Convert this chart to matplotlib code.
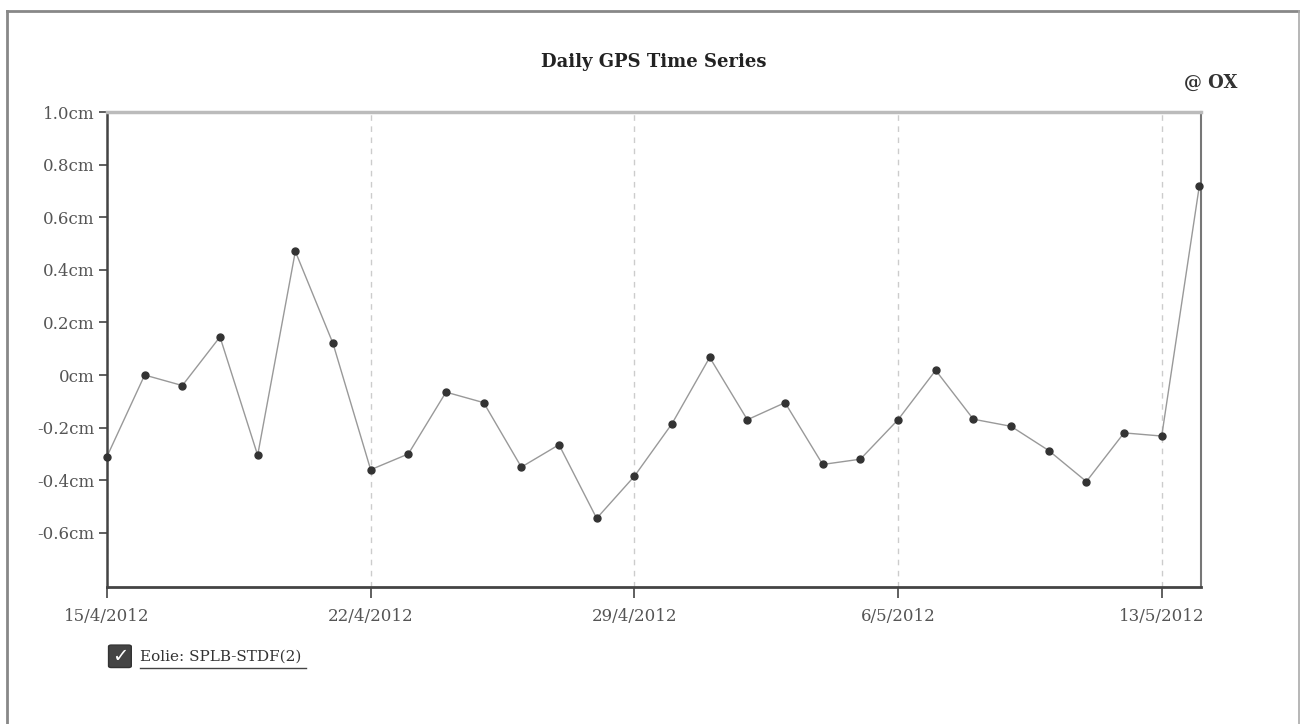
import numpy as np
import matplotlib.pyplot as plt
from matplotlib.patches import FancyBboxPatch
from matplotlib.lines import Line2D

# daily values (cm), 15/4/2012 .. 14/5/2012
start = np.datetime64('2012-04-15')
days = np.arange(30)
dates = start + days
values = [-0.31, 0.00, -0.04, 0.145, -0.305, 0.47, 0.12, -0.36, -0.30, -0.065,
          -0.105, -0.35, -0.265, -0.545, -0.385, -0.185, 0.067, -0.17, -0.105, -0.34,
          -0.32, -0.17, 0.018, -0.168, -0.195, -0.287, -0.405, -0.22, -0.232, 0.72]

week_ticks = start + np.array([0, 7, 14, 21, 28])
week_labels = ['15/4/2012', '22/4/2012', '29/4/2012', '6/5/2012', '13/5/2012']
y_ticks = [-0.6, -0.4, -0.2, 0.0, 0.2, 0.4, 0.6, 0.8, 1.0]
y_labels = ['-0.6cm', '-0.4cm', '-0.2cm', '0cm', '0.2cm', '0.4cm', '0.6cm', '0.8cm', '1.0cm']
series_name = 'Eolie: SPLB-STDF(2)'

plt.rcParams['font.family'] = ['DejaVu Serif']

fig = plt.figure(figsize=(13, 7.24), dpi=100)
ax = fig.add_axes([0.0823, 0.1892, 0.8415, 0.6561])

# weekly dashed guides
for t in week_ticks:
    ax.axvline(t, color='#cccccc', lw=1, ls=(0, (4, 4)), zorder=1)

ax.plot(dates, values, color='#999999', lw=1, zorder=2)
ax.plot(dates, values, 'o', color='#333333', ms=5, zorder=3, clip_on=False)

ax.set_xlim(start, start + np.timedelta64(29, 'D') + np.timedelta64(1, 'h'))
ax.set_ylim(-0.806, 1.0)
ax.set_xticks(week_ticks)
ax.set_xticklabels(week_labels)
ax.set_yticks(y_ticks)
ax.set_yticklabels(y_labels)
ax.tick_params(axis='y', length=6, width=1.2, color='#444444', labelcolor='#555555',
               labelsize=12, pad=3)
ax.tick_params(axis='x', length=8, width=1.2, color='#444444', labelcolor='#555555',
               labelsize=12, pad=7)

ax.spines['left'].set_color('#444444')
ax.spines['left'].set_linewidth(1.8)
ax.spines['bottom'].set_color('#444444')
ax.spines['bottom'].set_linewidth(2)
ax.spines['top'].set_color('#bbbbbb')
ax.spines['top'].set_linewidth(2.5)
ax.spines['right'].set_color('#777777')
ax.spines['right'].set_linewidth(1.5)

fig.text(0.503, 0.914, 'Daily GPS Time Series', ha='center', va='center',
         fontsize=13, fontweight='bold', color='#222222')
fig.text(0.931, 0.885, '@ OX', ha='center', va='center',
         fontsize=13, fontweight='bold', color='#333333')

# legend checkbox
box = FancyBboxPatch((0.0835, 0.078), 0.0175, 0.031, boxstyle='round,pad=0,rounding_size=0.002',
                     transform=fig.transFigure, facecolor='#444444', edgecolor='#333333', lw=1)
fig.patches.append(box)
fig.text(0.0923, 0.0935, '\u2713', ha='center', va='center', fontsize=14,
         color='white', family=['DejaVu Sans'])
fig.text(0.108, 0.093, series_name, ha='left', va='center', fontsize=11, color='#333333')
fig.add_artist(Line2D([0.108, 0.235], [0.078, 0.078], transform=fig.transFigure,
                      color='#444444', lw=1))

# outer frame
fig.add_artist(Line2D([0.0055, 0.0055], [0.0, 0.985], transform=fig.transFigure,
                      color='#888888', lw=2))
fig.add_artist(Line2D([0.0055, 0.999], [0.985, 0.985], transform=fig.transFigure,
                      color='#888888', lw=2))
fig.add_artist(Line2D([0.9992, 0.9992], [0.0, 0.985], transform=fig.transFigure,
                      color='#aaaaaa', lw=1.2))

fig.savefig('out.png', dpi=100)
